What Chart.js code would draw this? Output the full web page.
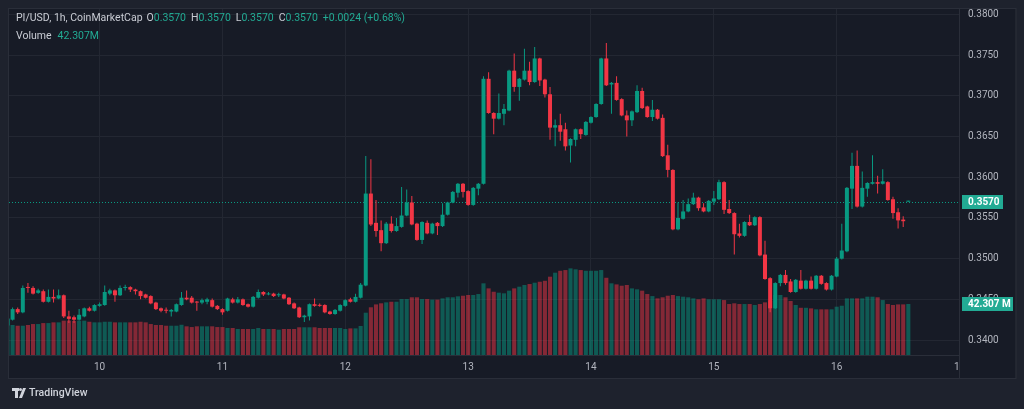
<!DOCTYPE html>
<html>
<head>
<meta charset="utf-8">
<title>PI/USD 1h</title>
<script src="https://cdn.jsdelivr.net/npm/chart.js@4.4.1/dist/chart.umd.min.js"></script>
<style>
  html, body { margin: 0; padding: 0; background: #1e222d; overflow: hidden; }
  #wrap { width: 1024px; height: 409px; }
</style>
</head>
<body>
<div id="wrap"><canvas id="priceChart" width="1024" height="409"></canvas></div>
<script>
// hourly candles, hour 0 = the 10th 00:00; first candle is the 9th 06:00
const firstHour = -18;

const opens = [
    .3418, .3425, .3438, .3434, .3465, .3464, .3458, .3460, .3447, .3453, .3451, .3455, .3429, .3428, .3425, .3429, .3439, .3436,
    .3442, .3443, .3457, .3461, .3455, .3464, .3465, .3462, .3460, .3456, .3454, .3446, .3439, .3437, .3435, .3435, .3443, .3452, .3452, .3447, .3446, .3447, .3449, .3442,
    .3438, .3436, .3450, .3446, .3450, .3444, .3441, .3452, .3459, .3456, .3457, .3455, .3456, .3452, .3445, .3440, .3428, .3429, .3444, .3443, .3443, .3435, .3432, .3436,
    .3442, .3450, .3447, .3452, .3467, .3580, .3544, .3535, .3519, .3543, .3534, .3539, .3553, .3569, .3543, .3523, .3544, .3531, .3544, .3540, .3554, .3569, .3581, .3592,
    .3583, .3566, .3586, .3592, .3721, .3679, .3672, .3678, .3682, .3731, .3711, .3720, .3731, .3717, .3746, .3720, .3702, .3661, .3664, .3659, .3639, .3646, .3659, .3652,
    .3667, .3674, .3690, .3746, .3714, .3716, .3696, .3676, .3670, .3680, .3706, .3687, .3674, .3683, .3673, .3627, .3609, .3536, .3549, .3558, .3567, .3575, .3563, .3558,
    .3570, .3573, .3594, .3561, .3556, .3531, .3528, .3545, .3541, .3551, .3505, .3476, .3439, .3470, .3480, .3472, .3459, .3473, .3463, .3473, .3463, .3479, .3470, .3462,
    .3478, .3500, .3509, .3586, .3614, .3564, .3586, .3592, .3594, .3592, .3594, .3573, .3557, .3548, .3570
];
const highs = [
    .3428, .3440, .3440, .3467, .3470, .3466, .3463, .3462, .3462, .3462, .3462, .3456, .3436, .3430, .3438, .3440, .3441, .3444,
    .3446, .3467, .3463, .3462, .3467, .3468, .3466, .3463, .3461, .3457, .3455, .3447, .3440, .3440, .3438, .3445, .3459, .3461, .3454, .3448, .3451, .3452, .3451, .3443,
    .3439, .3452, .3452, .3453, .3451, .3445, .3454, .3462, .3460, .3459, .3458, .3458, .3457, .3453, .3446, .3441, .3431, .3445, .3451, .3445, .3444, .3436, .3438, .3444,
    .3450, .3452, .3457, .3470, .3626, .3622, .3572, .3547, .3545, .3552, .3550, .3588, .3585, .3577, .3544, .3546, .3547, .3544, .3545, .3568, .3570, .3583, .3593, .3593,
    .3584, .3588, .3593, .3724, .3729, .3680, .3703, .3690, .3732, .3752, .3722, .3758, .3742, .3760, .3747, .3721, .3711, .3671, .3678, .3667, .3648, .3660, .3660, .3669,
    .3675, .3691, .3747, .3765, .3717, .3724, .3697, .3682, .3682, .3713, .3710, .3688, .3695, .3684, .3677, .3640, .3610, .3569, .3572, .3574, .3581, .3576, .3568, .3572,
    .3583, .3597, .3595, .3572, .3557, .3543, .3546, .3554, .3552, .3552, .3522, .3477, .3471, .3481, .3486, .3475, .3475, .3486, .3474, .3478, .3480, .3480, .3471, .3480,
    .3502, .3543, .3588, .3630, .3633, .3607, .3594, .3627, .3602, .3610, .3595, .3576, .3562, .3552, .3570
];
const lows = [
    .3415, .3424, .3432, .3433, .3458, .3456, .3457, .3446, .3446, .3446, .3450, .3427, .3421, .3421, .3424, .3428, .3435, .3435,
    .3441, .3442, .3455, .3447, .3454, .3461, .3459, .3456, .3450, .3451, .3444, .3437, .3434, .3433, .3429, .3434, .3442, .3449, .3445, .3436, .3444, .3444, .3440, .3437,
    .3431, .3435, .3445, .3445, .3442, .3440, .3440, .3451, .3454, .3455, .3453, .3453, .3450, .3443, .3438, .3427, .3422, .3424, .3441, .3441, .3433, .3431, .3431, .3435,
    .3441, .3446, .3446, .3451, .3466, .3540, .3527, .3509, .3518, .3532, .3533, .3538, .3552, .3541, .3522, .3518, .3530, .3530, .3529, .3539, .3553, .3568, .3575, .3575,
    .3565, .3565, .3578, .3591, .3678, .3653, .3671, .3664, .3681, .3705, .3694, .3719, .3713, .3716, .3712, .3698, .3646, .3638, .3645, .3633, .3618, .3638, .3647, .3651,
    .3666, .3673, .3689, .3712, .3678, .3694, .3675, .3650, .3663, .3679, .3684, .3673, .3669, .3671, .3625, .3600, .3535, .3535, .3548, .3557, .3566, .3559, .3557, .3557,
    .3566, .3572, .3555, .3555, .3505, .3526, .3527, .3540, .3540, .3503, .3474, .3434, .3438, .3466, .3468, .3458, .3458, .3462, .3462, .3462, .3462, .3468, .3461, .3461,
    .3477, .3499, .3508, .3561, .3563, .3563, .3576, .3591, .3580, .3591, .3571, .3549, .3537, .3539, .3570
];
const closes = [
    .3426, .3438, .3434, .3464, .3464, .3457, .3461, .3447, .3453, .3451, .3455, .3429, .3426, .3425, .3431, .3439, .3436, .3443,
    .3444, .3459, .3461, .3455, .3464, .3465, .3462, .3460, .3454, .3452, .3445, .3438, .3436, .3436, .3437, .3444, .3452, .3450, .3446, .3446, .3449, .3450, .3441, .3438,
    .3434, .3451, .3446, .3450, .3443, .3441, .3453, .3459, .3456, .3457, .3454, .3456, .3451, .3444, .3439, .3428, .3430, .3444, .3442, .3442, .3434, .3432, .3437, .3443,
    .3449, .3447, .3453, .3468, .3580, .3542, .3534, .3519, .3543, .3534, .3540, .3553, .3569, .3542, .3523, .3545, .3531, .3543, .3540, .3554, .3569, .3582, .3592, .3582,
    .3566, .3587, .3592, .3721, .3679, .3672, .3679, .3684, .3731, .3711, .3721, .3731, .3717, .3746, .3719, .3702, .3661, .3664, .3656, .3638, .3647, .3659, .3653, .3668,
    .3674, .3690, .3746, .3713, .3716, .3695, .3676, .3670, .3681, .3706, .3685, .3674, .3683, .3672, .3626, .3609, .3536, .3550, .3558, .3567, .3575, .3562, .3558, .3571,
    .3574, .3594, .3560, .3556, .3530, .3528, .3545, .3541, .3551, .3504, .3475, .3439, .3470, .3480, .3470, .3459, .3474, .3463, .3473, .3463, .3479, .3469, .3462, .3479,
    .3500, .3510, .3587, .3614, .3564, .3587, .3593, .3594, .3592, .3595, .3572, .3556, .3547, .3546, .3570
];
// volume in millions
const volumes = [
    30.4, 24.9, 24.3, 24.3, 24.9, 25.7, 25.7, 26.5, 26.5, 27.1, 27.1, 28.5, 28.5, 28.2, 28.5, 28.5, 27.6, 27.1,
    27.1, 27.6, 27.6, 27.1, 27.1, 27.1, 27.1, 27.1, 27.6, 27.1, 25.7, 24.9, 24.9, 24.3, 24.3, 24.3, 25.1, 23.8, 23.2, 23.8, 23.8, 23.8, 23.8, 23.2,
    23.2, 22.4, 22.4, 21.6, 21.6, 21.6, 21.6, 22.4, 21.6, 21.6, 21.6, 21.0, 21.6, 21.6, 21.6, 23.0, 23.0, 23.0, 23.0, 22.4, 22.4, 22.4, 22.4, 22.4,
    21.6, 22.1, 22.1, 24.1, 35.1, 39.6, 42.0, 42.9, 43.7, 44.2, 44.2, 46.4, 46.4, 47.9, 47.9, 46.4, 46.4, 45.9, 45.9, 47.0, 47.9, 47.9, 48.7, 49.2,
    49.8, 49.8, 50.6, 59.5, 55.3, 52.5, 51.7, 51.2, 53.4, 55.3, 56.7, 58.1, 58.9, 60.0, 60.8, 61.6, 65.0, 68.3, 69.9, 70.5, 71.9, 71.1, 70.5, 69.9,
    69.9, 69.9, 70.5, 64.1, 59.5, 58.6, 57.5, 58.1, 55.3, 54.5, 53.4, 50.6, 48.9, 47.0, 47.9, 49.2, 49.8, 48.9, 48.4, 47.9, 47.0, 46.2, 47.0, 46.2,
    46.2, 46.2, 45.6, 42.3, 42.9, 42.3, 42.3, 42.3, 41.5, 42.3, 43.7, 44.8, 49.8, 49.8, 47.9, 44.8, 41.5, 39.2, 39.2, 38.7, 37.9, 37.9, 37.9, 37.9,
    40.1, 40.9, 47.0, 47.0, 47.0, 47.0, 48.4, 48.4, 47.9, 45.6, 42.3, 41.5, 42.0, 42.0, 42.307
];

const dayTicks = [0, 24, 48, 72, 96, 120, 144];
const dayLabels = ['10', '11', '12', '13', '14', '15', '16'];
const priceTicks = [0.340, 0.345, 0.350, 0.355, 0.360, 0.365, 0.370, 0.375, 0.380];

const UP = '#089981';
const DOWN = '#f23645';
const UP_VOL = 'rgba(8, 153, 129, 0.5)';
const DOWN_VOL = 'rgba(242, 54, 69, 0.5)';
const BADGE = '#22ab94';
const PANEL = '#171b26';
const OUTER = '#1e222d';
const GRID = '#232732';
const FRAME = '#2a2e39';
const TEXT = '#b2b5be';
const FONT = 'Roboto, "Noto Sans", sans-serif';

const hours = opens.map((_, i) => firstHour + i);
const isUp = opens.map((o, i) => closes[i] >= o);
const candleColors = isUp.map(u => u ? UP : DOWN);
const volumeColors = isUp.map(u => u ? UP_VOL : DOWN_VOL);

// frame, price line, legend and the two axis badges
const tvFrame = {
    id: 'tvFrame',
    beforeDraw(chart) {
        const { ctx, chartArea: a, scales } = chart;
        ctx.save();
        ctx.fillStyle = OUTER;
        ctx.fillRect(0, 0, chart.width, chart.height);
        ctx.fillStyle = PANEL;
        ctx.fillRect(a.left - 1, a.top, scales.y.right - a.left + 1, scales.x.bottom - a.top);
        ctx.restore();
    },
    beforeDatasetsDraw(chart) {
        const { ctx, chartArea: a, scales } = chart;
        const y = Math.round(scales.y.getPixelForValue(closes[closes.length - 1])) + 0.5;
        ctx.save();
        ctx.strokeStyle = UP;
        ctx.lineWidth = 1;
        ctx.setLineDash([1, 2]);
        ctx.beginPath();
        ctx.moveTo(a.left, y);
        ctx.lineTo(a.right, y);
        ctx.stroke();
        ctx.restore();
    },
    afterDraw(chart) {
        const { ctx, chartArea: a, scales } = chart;
        const n = closes.length - 1;
        ctx.save();

        // day 17 label, cut by the price scale
        ctx.save();
        ctx.beginPath();
        ctx.rect(a.left, scales.x.top, a.right - a.left, scales.x.bottom - scales.x.top);
        ctx.clip();
        ctx.font = '10px ' + FONT;
        ctx.fillStyle = TEXT;
        ctx.textAlign = 'center';
        ctx.textBaseline = 'middle';
        ctx.fillText('17', scales.x.getPixelForValue(168), scales.x.top + 12);
        ctx.restore();

        // outer frame + separators
        ctx.strokeStyle = FRAME;
        ctx.lineWidth = 1;
        ctx.strokeRect(a.left - 0.5, a.top + 0.5, scales.y.right - a.left + 1, scales.x.bottom - a.top);
        ctx.beginPath();
        ctx.moveTo(a.right + 0.5, scales.x.top);
        ctx.lineTo(a.right + 0.5, scales.x.bottom);
        ctx.stroke();

        // badges on the price scale
        const badge = (text, y, w) => {
            ctx.fillStyle = BADGE;
            ctx.fillRect(a.right + 3, Math.round(y) - 7, w, 14);
            ctx.fillStyle = '#ffffff';
            ctx.font = 'bold 10px ' + FONT;
            ctx.textAlign = 'left';
            ctx.textBaseline = 'middle';
            ctx.fillText(text, a.right + 9, Math.round(y) + 0.5);
        };
        badge(closes[n].toFixed(4), scales.y.getPixelForValue(closes[n]), 41);
        badge(volumes[n].toFixed(3) + ' M', scales.yVol.getPixelForValue(volumes[n]), 51);

        // legend
        const chg = closes[n] - closes[n - 1];
        const pct = chg / closes[n - 1] * 100;
        const valColor = isUp[n] ? BADGE : DOWN;
        const sign = chg >= 0 ? '+' : '';
        const line1 = [
            ['PI/USD, 1h, CoinMarketCap', '#c9ccd4', 4],
            ['O', '#c9ccd4', 0], [opens[n].toFixed(4), valColor, 5],
            ['H', '#c9ccd4', 0], [highs[n].toFixed(4), valColor, 5],
            ['L', '#c9ccd4', 0], [lows[n].toFixed(4), valColor, 5],
            ['C', '#c9ccd4', 0], [closes[n].toFixed(4), valColor, 5],
            [sign + chg.toFixed(4) + ' (' + sign + pct.toFixed(2) + '%)', valColor, 0]
        ];
        const line2 = [['Volume', '#c9ccd4', 6], [volumes[n].toFixed(3) + 'M', valColor, 0]];
        ctx.font = '10.5px ' + FONT;
        ctx.textAlign = 'left';
        ctx.textBaseline = 'middle';
        const writeLine = (parts, y) => {
            let x = 16;
            parts.forEach(([t, c, gap]) => {
                ctx.fillStyle = c;
                ctx.fillText(t, x, y);
                x += ctx.measureText(t).width + gap;
            });
        };
        writeLine(line1, 18);
        writeLine(line2, 36.5);

        // TradingView mark
        ctx.fillStyle = '#d1d4dc';
        ctx.fillRect(12, 388, 7, 3);
        ctx.fillRect(15, 388, 3, 10);
        ctx.beginPath();
        ctx.arc(20.5, 389.5, 1.5, 0, Math.PI * 2);
        ctx.fill();
        ctx.beginPath();
        ctx.moveTo(23, 388);
        ctx.lineTo(26, 388);
        ctx.lineTo(22, 398);
        ctx.lineTo(19, 398);
        ctx.closePath();
        ctx.fill();
        ctx.font = '500 10.5px ' + FONT;
        ctx.fillText('TradingView', 29, 393.5);
        ctx.restore();
    }
};

new Chart(document.getElementById('priceChart').getContext('2d'), {
    type: 'bar',
    data: {
        datasets: [
            {
                label: 'Body',
                data: hours.map((h, i) => ({ x: h, y: [opens[i], closes[i]] })),
                backgroundColor: candleColors,
                barPercentage: 0.78,
                categoryPercentage: 1,
                minBarLength: 1,
                grouped: false,
                yAxisID: 'y',
                order: 1
            },
            {
                label: 'Wick',
                data: hours.map((h, i) => ({ x: h, y: [lows[i], highs[i]] })),
                backgroundColor: candleColors,
                maxBarThickness: 1,
                minBarLength: 1,
                grouped: false,
                yAxisID: 'y',
                order: 2
            },
            {
                label: 'Volume',
                data: hours.map((h, i) => ({ x: h, y: volumes[i] })),
                backgroundColor: volumeColors,
                barPercentage: 0.8,
                categoryPercentage: 1,
                grouped: false,
                yAxisID: 'yVol',
                order: 3
            }
        ]
    },
    options: {
        responsive: false,
        animation: false,
        devicePixelRatio: 1,
        layout: { padding: { left: 9, right: 8.5, top: 8, bottom: 31 } },
        plugins: {
            legend: { display: false },
            tooltip: { enabled: false }
        },
        scales: {
            x: {
                type: 'linear',
                min: -17.7,
                max: 167.9,
                offset: false,
                grid: { color: GRID, offset: false, drawTicks: false },
                border: { color: FRAME },
                ticks: {
                    color: TEXT,
                    font: { family: FONT, size: 10 },
                    padding: 6,
                    maxRotation: 0,
                    autoSkip: false,
                    callback: (v) => dayLabels[dayTicks.indexOf(v)]
                },
                afterBuildTicks: (s) => { s.ticks = dayTicks.map(v => ({ value: v })); },
                afterFit: (s) => { s.height = 23; }
            },
            y: {
                position: 'right',
                min: 0.33816,
                max: 0.38080,
                grid: { color: GRID, drawTicks: true, tickLength: 9, tickColor: 'rgba(0, 0, 0, 0)' },
                border: { color: FRAME },
                ticks: {
                    color: TEXT,
                    font: { family: FONT, size: 10 },
                    padding: 0,
                    callback: (v) => v.toFixed(4)
                },
                afterBuildTicks: (s) => { s.ticks = priceTicks.map(v => ({ value: v })); },
                afterFit: (s) => { s.width = 56.5; }
            },
            yVol: {
                display: false,
                min: 0,
                max: 288
            }
        }
    },
    plugins: [tvFrame]
});
</script>
</body>
</html>
